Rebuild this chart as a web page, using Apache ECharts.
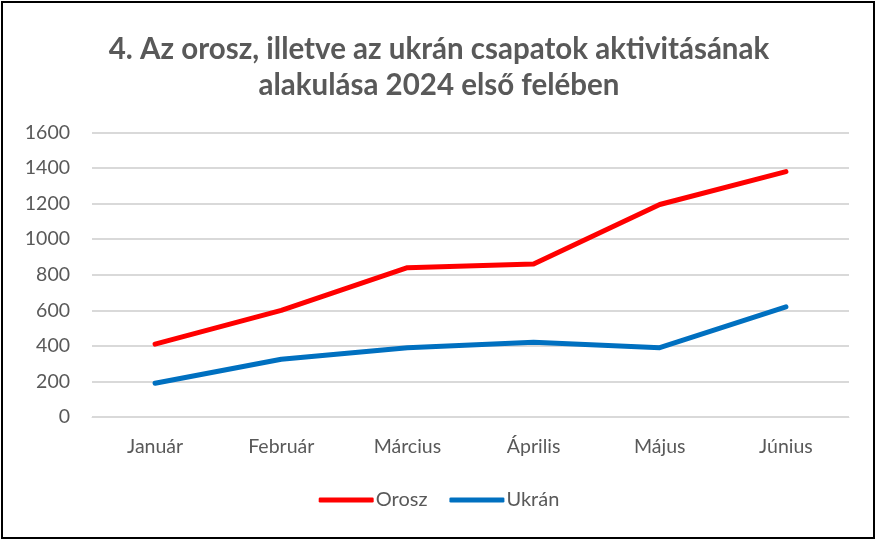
<!DOCTYPE html>
<html><head><meta charset="utf-8">
<script src="https://cdn.jsdelivr.net/npm/echarts@6/dist/echarts.min.js"></script>
<style>html,body{margin:0;padding:0;background:#fff}#c{width:878px;height:542px}</style>
</head><body><div id="c"></div>
<script>
const categories = ['Január','Február','Március','Április','Május','Június'];
const orosz = [410, 600, 840, 860, 1195, 1380];
const ukran = [190, 325, 390, 420, 390, 620];
const yTicks = [0, 200, 400, 600, 800, 1000, 1200, 1400, 1600];
const titleText = '4. Az orosz, illetve az ukrán csapatok aktivitásának\nalakulása 2024 első felében';

const chart = echarts.init(document.getElementById('c'));
const font = 'Lato, "Open Sans", sans-serif';
chart.setOption({
  animation: false,
  backgroundColor: '#fff',
  title: {
    text: titleText, left: 'center', top: 26,
    textStyle: {fontFamily: font, fontWeight: 'bold', fontSize: 29.5, color: '#595959', lineHeight: 36}
  },
  graphic: [{type: 'rect', shape: {x: 2, y: 2, width: 872, height: 536}, style: {fill: 'none', stroke: '#000', lineWidth: 2}, silent: true}],
  grid: {left: 92, right: 29, top: 132.5, bottom: 125},
  legend: {
    bottom: 27, left: 'center', itemWidth: 55, itemHeight: 5, itemGap: 22, icon: 'roundRect',
    textStyle: {fontFamily: font, fontSize: 20, color: '#595959', padding: [0,0,0,-3]},
    data: ['Orosz','Ukrán']
  },
  xAxis: {
    type: 'category', data: categories, boundaryGap: true,
    axisLine: {show: true, lineStyle: {color: '#d9d9d9', width: 1}},
    axisTick: {show: false},
    axisLabel: {fontFamily: font, fontSize: 19.5, color: '#595959', margin: 20}
  },
  yAxis: {
    type: 'value', min: yTicks[0], max: yTicks[yTicks.length-1], interval: 200,
    axisLine: {show: false}, axisTick: {show: false},
    splitLine: {lineStyle: {color: '#d9d9d9', width: 2}},
    axisLabel: {fontFamily: font, fontSize: 19.5, color: '#595959', margin: 22, formatter: v => String(v)}
  },
  series: [
    {name: 'Orosz', type: 'line', data: orosz, symbol: 'none', color: '#ff0000',
     lineStyle: {width: 5, color: '#ff0000', cap: 'round', join: 'round'}},
    {name: 'Ukrán', type: 'line', data: ukran, symbol: 'none', color: '#0070c0',
     lineStyle: {width: 5, color: '#0070c0', cap: 'round', join: 'round'}}
  ]
});
</script></body></html>
